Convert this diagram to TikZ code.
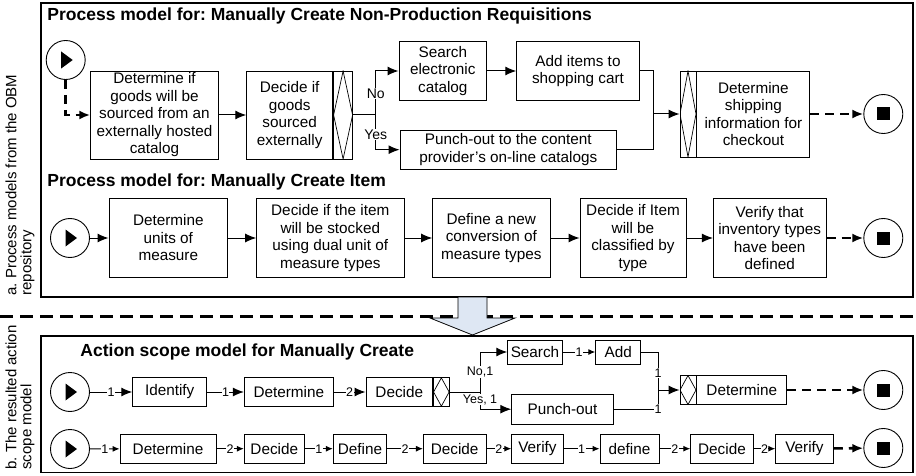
\documentclass[tikz,border=0pt]{standalone}
\usepackage{fontspec}
\setmainfont{Liberation Sans}
\usetikzlibrary{arrows.meta}
\definecolor{arrowblue}{RGB}{222,231,243}
\frenchspacing

\begin{document}
\begin{tikzpicture}[x=1pt, y=-1pt, line width=0.9pt,
	box/.style={draw, fill=white, align=center, inner sep=1pt, font=\fontsize{15.3}{17.5}\selectfont},
	gate/.style={draw, fill=white, inner sep=0pt, path picture={\draw[black, line width=0.7pt] (path picture bounding box.north) -- (path picture bounding box.east) -- (path picture bounding box.south) -- (path picture bounding box.west) -- cycle;}},
	ev/.style={draw, circle, fill=white, inner sep=0pt, minimum size=39pt},
	start/.style={ev, path picture={\fill[black] ([xshift=-4.5pt,yshift=8.5pt]path picture bounding box.center) -- ++(0pt,-17pt) -- ++(11.5pt,8.5pt) -- cycle;}},
	stop/.style={ev, path picture={\fill[black] ([xshift=-6.5pt,yshift=-6.5pt]path picture bounding box.center) rectangle ++(13pt,13pt);}},
	ttl/.style={anchor=west, inner sep=0pt, font=\bfseries\fontsize{17.5}{19}\selectfont},
	flow/.style={line width=1pt, -{Latex[length=11pt,width=9pt]}},
	sflow/.style={line width=1pt, -{Latex[length=7pt,width=6pt]}},
	dflow/.style={line width=2.6pt, dash pattern=on 9pt off 6pt, -{Latex[length=11pt,width=9pt]}},
	lbl/.style={fill=white, inner sep=0.5pt, font=\fontsize{12.5}{13}\selectfont},
	side/.style={rotate=90, anchor=north west, align=left, inner sep=0pt, font=\fontsize{15}{15}\selectfont}]
	\useasboundingbox (0,0) rectangle (916,476);

	% frames, separator and the big arrow
	\draw[line width=1.2pt] (41,3) rectangle (913,297);
	\draw[line width=1.2pt] (41,336) rectangle (913,472.5);
	\draw[line width=2.6pt, dash pattern=on 13pt off 7pt] (0,316.7) -- (916,316.7);
	\draw[fill=arrowblue, line width=0.8pt] (458,297) -- (458,318) -- (430,318) -- (472.5,335) -- (515,318) -- (487,318) -- (487,297) -- cycle;

	\node[side] (la) at (5,296) {a. Process models from the OBM\\repository};
	\node[side] (lb) at (5,470) {b. The resulted action\\scope model};

	% a. process models
	\node[ttl] (ta1) at (47,16) {Process model for: Manually Create Non-Production Requisitions};
	\node[start] (sa1) at (65.7,60) {};
	\node[box, minimum width=127.6pt, minimum height=88pt] (a1) at (154.5,115) {Determine if\\goods will be\\sourced from an\\externally hosted\\catalog};
	\node[box, minimum width=86pt, minimum height=88pt] (a2) at (289.7,115) {Decide if\\goods\\sourced\\externally};
	\node[gate, minimum width=19pt, minimum height=88pt, anchor=west] (g1) at (a2.east) {};
	\node[box, minimum width=87.7pt, minimum height=58.3pt] (a3) at (442.8,71) {Search\\electronic\\catalog};
	\node[box, minimum width=122.6pt, minimum height=58.3pt] (a4) at (578,71) {Add items to\\shopping cart};
	\node[box, minimum width=216.7pt, minimum height=39.3pt] (a5) at (508.3,149.7) {Punch-out to the content\\provider's on-line catalogs};
	\node[gate, minimum width=16pt, minimum height=86pt] (g2) at (688,114) {};
	\node[box, minimum width=113pt, minimum height=86pt, anchor=west] (a6) at (g2.east) {Determine\\shipping\\information for\\checkout};
	\node[stop] (ea1) at (883.3,114) {};
	\coordinate (sp1) at (375.7,115);
	\coordinate (mg1) at (653.3,114);

	\draw[dflow] (sa1) |- (a1);
	\draw[flow] (a1) -- (a2);
	\draw[line width=1pt] (g1.east) -- (sp1);
	\draw[flow] (sp1) |- node[lbl, pos=0.24, font=\fontsize{14}{15}\selectfont]{No} (a3);
	\draw[flow] (sp1) |- node[lbl, pos=0.28, font=\fontsize{14}{15}\selectfont]{Yes} (a5);
	\draw[flow] (a3) -- (a4);
	\draw[line width=1pt] (a4.east) -| (mg1);
	\draw[line width=1pt] (a5.east) -| (mg1);
	\draw[flow] (mg1) -- (g2);
	\draw[dflow] (a6) -- (ea1);

	\node[ttl] (ta2) at (47,182) {Process model for: Manually Create Item};
	\node[start] (sa2) at (70,238) {};
	\node[box, minimum width=118.7pt, minimum height=79pt] (b1) at (168.3,238) {Determine\\units of\\measure};
	\node[box, minimum width=147.3pt, minimum height=79pt] (b2) at (330.3,238) {Decide if the item\\will be stocked\\using dual unit of\\measure types};
	\node[box, minimum width=117.3pt, minimum height=79pt] (b3) at (491.3,238) {Define a new\\conversion of\\measure types};
	\node[box, minimum width=106pt, minimum height=79pt] (b4) at (633,238) {Decide if Item\\will be\\classified by\\type};
	\node[box, minimum width=112.7pt, minimum height=79pt] (b5) at (769.7,238) {Verify that\\inventory types\\have been\\defined};
	\node[stop] (ea2) at (883.3,238) {};
	\foreach \p/\q in {sa2/b1,b1/b2,b2/b3,b3/b4,b4/b5}
		\draw[flow] (\p) -- (\q);
	\draw[dflow] (b5) -- (ea2);

	% b. action scope model
	\node[ttl] (tb) at (80,352) {Action scope model for Manually Create};
	\node[start] (sb1) at (70,392) {};
	\node[box, minimum width=74pt, minimum height=28.3pt] (c1) at (169.7,392) {Identify};
	\node[box, minimum width=89pt, minimum height=28.3pt] (c2) at (288.8,392) {Determine};
	\node[box, minimum width=66.7pt, minimum height=28.3pt] (c3) at (399.3,392) {Decide};
	\node[gate, minimum width=15.6pt, minimum height=28.3pt, anchor=west] (g3) at (c3.east) {};
	\node[box, minimum width=54.6pt, minimum height=24pt] (c4) at (535,352) {Search};
	\node[box, minimum width=45pt, minimum height=24pt] (c5) at (618.2,352) {Add};
	\node[box, minimum width=101.6pt, minimum height=29.7pt] (c6) at (562.5,409.2) {Punch-out};
	\node[gate, minimum width=16pt, minimum height=29pt] (g4) at (688,390) {};
	\node[box, minimum width=89.7pt, minimum height=29pt, anchor=west] (c7) at (g4.east) {Determine};
	\node[stop] (eb1) at (883.3,390) {};
	\coordinate (sp2) at (480,392);
	\coordinate (mg2) at (658,390);

	\draw[flow] (sb1) -- node[lbl]{1} (c1);
	\draw[flow] (c1) -- node[lbl]{1} (c2);
	\draw[flow] (c2) -- node[lbl]{2} (c3);
	\draw[line width=1pt] (g3.east) -- (sp2);
	\draw[flow] (sp2) |- node[lbl, pos=0.25]{No,1} (c4);
	\draw[flow] (sp2) |- node[lbl, pos=0.22]{Yes, 1} (c6);
	\draw[sflow] (c4) -- node[lbl]{1} (c5);
	\draw[line width=1pt] (c5.east) -| node[lbl, pos=0.78]{1} (mg2);
	\draw[line width=1pt] (c6.east) -| node[lbl, pos=0.5]{1} (mg2);
	\draw[flow] (mg2) -- (g4);
	\draw[dflow] (c7) -- (eb1);

	\node[start] (sb2) at (70,449) {};
	\node[box, minimum width=96pt, minimum height=29.3pt] (d1) at (168,448.7) {Determine};
	\node[box, minimum width=60pt, minimum height=29.3pt] (d2) at (274.3,448.7) {Decide};
	\node[box, minimum width=53.4pt, minimum height=29.3pt] (d3) at (360,448.7) {Define};
	\node[box, minimum width=62.7pt, minimum height=29.3pt] (d4) at (454.7,448.7) {Decide};
	\node[box, minimum width=51.6pt, minimum height=29.3pt] (d5) at (537.5,448.7) {Verify};
	\node[box, minimum width=59pt, minimum height=29.3pt] (d6) at (629.5,448.7) {define};
	\node[box, minimum width=62.6pt, minimum height=29.3pt] (d7) at (722,448.7) {Decide};
	\node[box, minimum width=57.6pt, minimum height=29.3pt] (d8) at (804.5,448.7) {Verify};
	\node[stop] (eb2) at (883.3,448) {};
	\foreach \p/\q/\n in {sb2/d1/1,d1/d2/2,d2/d3/1,d3/d4/2,d4/d5/2,d5/d6/1,d6/d7/2,d7/d8/2}
		\draw[sflow] (\p) -- node[lbl]{\n} (\q);
	\draw[dflow] (d8) -- (eb2);
\end{tikzpicture}
\end{document}
